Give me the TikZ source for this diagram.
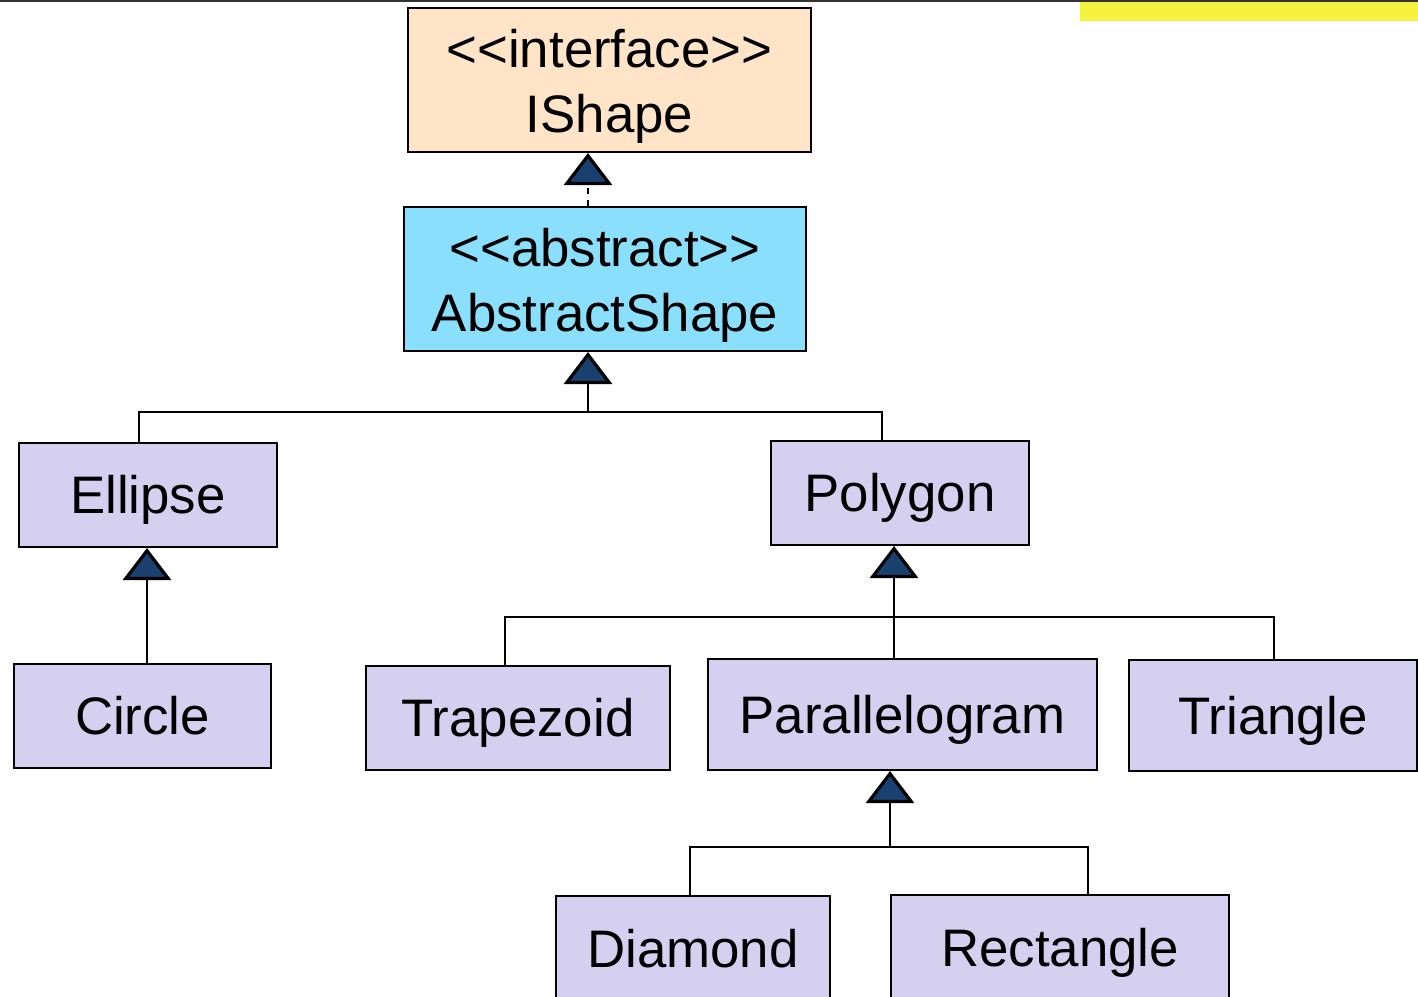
\documentclass[tikz,border=0pt]{standalone}
\usepackage{fontspec}
\setmainfont{Liberation Sans}[Ligatures=TeXOff]
\usetikzlibrary{arrows.meta}
\definecolor{ifacefill}{HTML}{FFE4C8}
\definecolor{absfill}{HTML}{8ADFFC}
\definecolor{classfill}{HTML}{D5D0F0}
\definecolor{navyfill}{HTML}{1A4070}
\definecolor{bannerfill}{HTML}{F5F240}

\begin{document}
\begin{tikzpicture}[x=0.5pt,y=-0.5pt]
\useasboundingbox (0,0) rectangle (1418,996);
\fill[bannerfill] (1080,2) rectangle (1418,21);
\draw[line width=1.4pt, black!80] (0,1) -- (1418,1);

\begin{scope}
\tikzstyle{every node}=[shape=rectangle, draw, line width=1pt, inner sep=0pt, align=center, font=\fontsize{26.4}{32.5}\selectfont];
\tikzstyle{cls}=[fill=classfill, minimum height=52pt, text height=24pt, text depth=5.5pt]
\tikzstyle{head}=[minimum width=201.5pt, minimum height=72pt, text height=57.5pt, text depth=5.5pt]
\tikzstyle{inherit}=[line width=1pt, -{Triangle[width=24pt,length=16pt,line width=1.6pt,fill=navyfill]}]

\draw (609.5,80) node[head, fill=ifacefill] (ishape) {<<interface>>\\IShape};
\draw (605,279) node[head, fill=absfill, minimum width=201pt] (abstract) {<<abstract>>\\AbstractShape};

\draw (148,495) node[cls, minimum width=129pt] (ellipse) {Ellipse};
\draw (900,493) node[cls, minimum width=129pt] (polygon) {Polygon};
\draw (142.5,716) node[cls, minimum width=128.5pt] (circle) {Circle};
\draw (518,718) node[cls, minimum width=152pt] (trapezoid) {Trapezoid};
\draw (902.5,714.5) node[cls, minimum width=194.5pt, minimum height=55.5pt] (parallelogram) {Parallelogram};
\draw (1273,715.5) node[cls, minimum width=144pt, minimum height=55.5pt] (triangle) {Triangle};
\draw (693,949) node[cls, minimum width=137pt, minimum height=53pt] (diamond) {Diamond};
\draw (1060,948) node[cls, minimum width=169pt, minimum height=53pt] (rectangle) {Rectangle};

\coordinate (busa) at (588,412);
\coordinate (busal) at (139,412);
\coordinate (busar) at (882,412);
\coordinate (busb) at (894,617);
\coordinate (busbl) at (505,617);
\coordinate (busbr) at (1274,617);
\coordinate (busc) at (890,847);
\coordinate (buscl) at (690,847);
\coordinate (buscr) at (1088,847);

\draw[inherit, dash pattern=on 3pt off 3pt] (abstract.north -| 588,0) -- (ishape.south -| 588,0);
\draw[inherit] (busa) -- (abstract.south -| busa);
\draw[line width=1pt] (ellipse.north -| busal) -- (busal) -- (busar) -- (polygon.north -| busar);
\draw[inherit] (circle.north -| 147,0) -- (ellipse.south -| 147,0);
\draw[inherit] (parallelogram.north -| busb) -- (polygon.south -| busb);
\draw[line width=1pt] (trapezoid.north -| busbl) -- (busbl) -- (busbr) -- (triangle.north -| busbr);
\draw[inherit] (busc) -- (parallelogram.south -| busc);
\draw[line width=1pt] (diamond.north -| buscl) -- (buscl) -- (buscr) -- (rectangle.north -| buscr);
\end{scope}
\end{tikzpicture}
\end{document}
